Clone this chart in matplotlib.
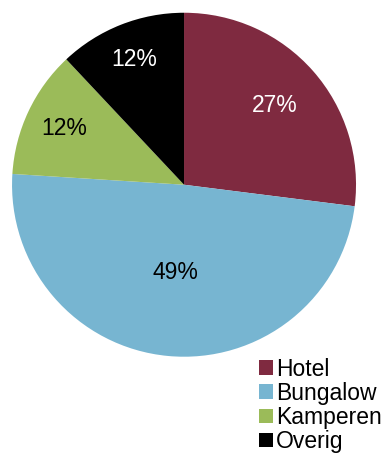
import numpy as np
import matplotlib.pyplot as plt

plt.rcParams['font.family'] = ['Liberation Sans', 'DejaVu Sans']

categories = ['Hotel', 'Bungalow', 'Kamperen', 'Overig']
shares = [27, 49, 12, 12]
colors = ['#7F2A40', '#77B5D1', '#9BBB59', '#000000']
label_colors = ['white', 'black', 'black', 'white']
label_dist = [0.70, 0.51, 0.77, 0.78]

fig = plt.figure(figsize=(3.85, 4.55), dpi=100)
ax = fig.add_axes([0.031, 0.216, 0.894, 0.756])

wedges, _ = ax.pie(shares, colors=colors, startangle=90, counterclock=False,
                   wedgeprops=dict(linewidth=0))
ax.set_xlim(-1, 1)
ax.set_ylim(-1, 1)

total = sum(shares)
start = 90.0
for w, s, c, d in zip(wedges, shares, label_colors, label_dist):
    mid = np.deg2rad(start - s / total * 180.0)
    start -= s / total * 360.0
    ax.text(d * np.cos(mid), d * np.sin(mid), '%d%%' % s, color=c,
            fontsize=16.5, ha='center', va='center')

fig.legend(wedges, categories, loc='upper left', bbox_to_anchor=(0.673, 0.214),
           frameon=False, fontsize=16.5, handlelength=0.6, handleheight=0.6,
           handletextpad=0.15, labelspacing=0.05, borderpad=0, borderaxespad=0)

fig.savefig('out.png', dpi=100)
